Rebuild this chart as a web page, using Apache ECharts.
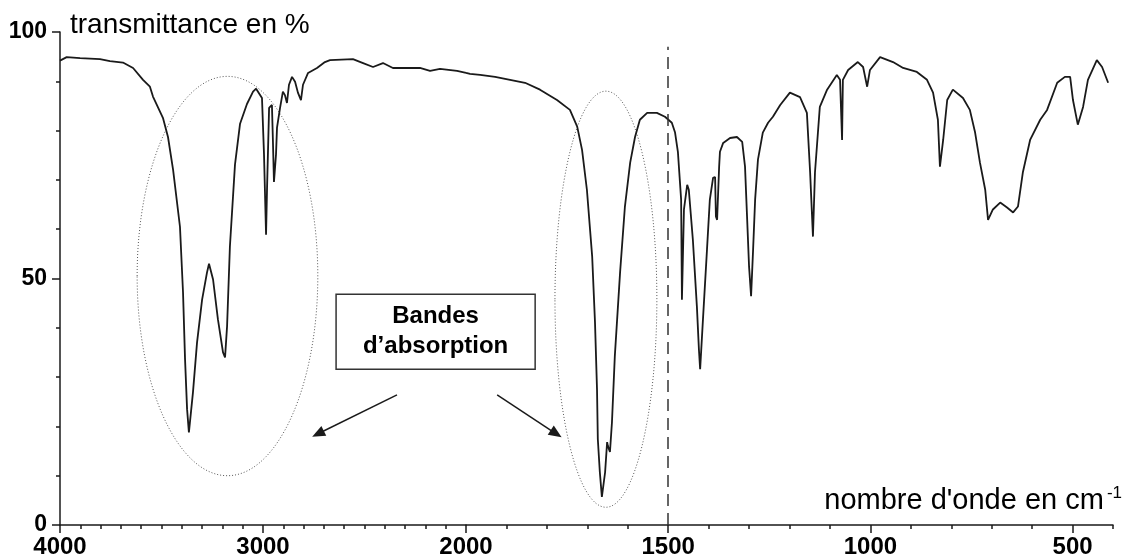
<!DOCTYPE html>
<html>
<head>
<meta charset="utf-8">
<script src="https://cdn.jsdelivr.net/npm/echarts@6/dist/echarts.min.js"></script>
<style>
  html, body { margin: 0; padding: 0; background: #fff; }
  #main { width: 1125px; height: 557px; }
</style>
</head>
<body>
<div id="main"></div>
<script>
// nombre d'onde 4000 -> 2000 cm-1 (échelle compressée)
const wnHigh = [4000, 3967, 3901, 3803, 3754, 3690, 3640, 3591, 3557, 3542, 3493, 3468, 3443, 3409, 3394, 3384, 3374, 3365, 3345, 3325, 3300, 3276, 3266, 3246, 3222, 3197, 3187, 3177, 3163, 3138, 3113, 3079, 3049, 3034, 3025, 3005, 2995, 2985, 2980, 2970, 2956, 2951, 2946, 2936, 2931, 2916, 2902, 2892, 2882, 2872, 2857, 2842, 2828, 2813, 2803, 2778, 2734, 2695, 2670, 2557, 2507, 2458, 2409, 2360, 2291, 2227, 2177, 2128, 2044, 2000];
const tHigh = [94.2, 94.9, 94.7, 94.5, 94.1, 93.8, 92.7, 90.3, 88.9, 86.9, 82.6, 78.7, 72.1, 60.5, 47.2, 33.6, 23.5, 18.8, 26.9, 37.0, 45.7, 51.2, 53.0, 49.8, 41.7, 35.0, 34.0, 40.3, 56.5, 73.1, 81.4, 85.4, 87.9, 88.5, 88.3, 86.6, 75.1, 58.9, 68.4, 84.6, 85.2, 77.7, 69.6, 75.1, 80.6, 84.6, 87.9, 87.2, 85.6, 89.3, 90.9, 89.9, 87.7, 86.2, 89.3, 91.7, 92.7, 93.9, 94.3, 94.5, 93.7, 92.9, 93.7, 92.7, 92.7, 92.7, 92.1, 92.5, 92.1, 91.7];

// nombre d'onde 2000 -> 400 cm-1
const wnLow = [2000, 1990, 1965, 1928, 1891, 1854, 1817, 1775, 1743, 1725, 1713, 1701, 1688, 1681, 1676, 1674, 1669, 1664, 1656, 1651, 1649, 1644, 1639, 1632, 1619, 1607, 1594, 1582, 1570, 1552, 1528, 1508, 1491, 1483, 1476, 1468, 1466, 1461, 1453, 1449, 1439, 1429, 1424, 1421, 1414, 1404, 1397, 1389, 1384, 1382, 1379, 1374, 1372, 1364, 1347, 1330, 1317, 1310, 1305, 1300, 1295, 1290, 1285, 1278, 1266, 1253, 1241, 1223, 1199, 1174, 1157, 1149, 1142, 1137, 1125, 1107, 1083, 1075, 1070, 1068, 1055, 1031, 1018, 1008, 1001, 976, 944, 919, 885, 860, 845, 833, 828, 820, 810, 796, 771, 754, 741, 729, 716, 709, 697, 679, 662, 647, 635, 623, 605, 580, 563, 538, 519, 506, 499, 487, 474, 462, 440, 427, 412];
const tLow = [91.7, 91.5, 91.3, 90.9, 90.3, 89.7, 88.3, 86.2, 84.2, 80.8, 76.1, 68.0, 54.5, 41.1, 27.5, 17.4, 10.7, 5.7, 10.7, 16.8, 16.0, 14.8, 20.9, 34.2, 51.2, 64.6, 73.5, 78.7, 82.2, 83.6, 83.6, 82.8, 81.6, 79.6, 75.7, 66.0, 45.7, 64.0, 69.0, 68.0, 57.9, 44.3, 35.6, 31.6, 41.7, 55.9, 66.0, 70.4, 70.6, 62.6, 61.9, 72.7, 75.7, 77.5, 78.5, 78.7, 77.7, 72.7, 62.6, 52.4, 46.4, 55.9, 66.0, 74.1, 79.6, 81.6, 82.8, 85.2, 87.7, 86.8, 83.6, 71.5, 58.5, 71.5, 84.8, 88.3, 91.3, 90.3, 78.1, 90.3, 92.3, 93.9, 92.9, 88.9, 92.3, 94.9, 93.9, 92.7, 91.9, 90.3, 87.7, 82.2, 72.7, 78.1, 86.2, 88.3, 86.6, 84.2, 79.6, 73.5, 68.0, 61.9, 64.0, 65.4, 64.4, 63.4, 64.6, 71.5, 78.1, 82.2, 84.2, 89.7, 90.9, 90.9, 86.2, 81.2, 84.8, 90.3, 94.3, 92.9, 89.7];

const majorTicksLow = [2000, 1500, 1000, 500];

// annotations (en unités des axes)
const ellipseWn = [[3620, 2730], [1780, 1528]];
const ellipseT = [[10, 91], [3.6, 88]];
const boxWn = [2640, 1829];
const boxT = [46.8, 31.6];

const ink = '#1a1a1a';
const font = '"Liberation Sans", Arial, sans-serif';

var myChart = echarts.init(document.getElementById('main'));

var option = {
  animation: false,
  grid: [
    { left: 60, top: 32, width: 406, bottom: 32, outerBoundsMode: 'none' },
    { left: 466, top: 32, width: 647, bottom: 32, outerBoundsMode: 'none' }
  ],
  xAxis: [
    {
      gridIndex: 0, type: 'value', min: 2000, max: 4000, interval: 1000, inverse: true,
      axisLine: { lineStyle: { color: ink, width: 1.5 } },
      axisTick: { length: 8, lineStyle: { color: ink, width: 1.5 } },
      minorTick: { show: true, splitNumber: 10, length: 4, lineStyle: { color: ink, width: 1.5 } },
      splitLine: { show: false },
      axisLabel: {
        margin: 10, color: '#000', fontFamily: font, fontWeight: 'bold', fontSize: 24,
        formatter: v => (v === 2000 ? '' : v)
      }
    },
    {
      gridIndex: 1, type: 'value', min: 400, max: 2000, interval: 100, inverse: true,
      axisLine: { lineStyle: { color: ink, width: 1.5 } },
      axisTick: { length: 4, lineStyle: { color: ink, width: 1.5 } },
      splitLine: { show: false },
      axisLabel: {
        margin: 10, color: '#000', fontFamily: font, fontWeight: 'bold', fontSize: 24,
        formatter: v => (v % 500 === 0 ? v : '')
      },
      name: "{a|nombre d'onde en cm}{s|-1}",
      nameLocation: 'start',
      nameGap: 9,
      nameTextStyle: {
        align: 'right', verticalAlign: 'bottom', padding: [0, 0, 9, 0],
        rich: {
          a: { fontFamily: font, fontSize: 29, color: '#000' },
          s: { fontFamily: font, fontSize: 17, color: '#000', verticalAlign: 'top', padding: [0, 0, 14, 3] }
        }
      }
    },
    {
      // graduations principales plus longues
      gridIndex: 1, type: 'value', min: 400, max: 2000, inverse: true, position: 'bottom',
      axisLine: { show: false },
      axisTick: { show: true, customValues: majorTicksLow, length: 8, lineStyle: { color: ink, width: 1.5 } },
      axisLabel: { show: false },
      splitLine: { show: false }
    }
  ],
  yAxis: [
    {
      gridIndex: 0, type: 'value', min: 0, max: 100, interval: 50,
      axisLine: { show: true, lineStyle: { color: ink, width: 1.5 } },
      axisTick: { show: true, length: 8, lineStyle: { color: ink, width: 1.5 } },
      minorTick: { show: true, splitNumber: 5, length: 4, lineStyle: { color: ink, width: 1.5 } },
      splitLine: { show: false },
      axisLabel: { margin: 13, color: '#000', fontFamily: font, fontWeight: 'bold', fontSize: 23 },
      name: 'transmittance en %',
      nameLocation: 'end',
      nameGap: 7,
      nameTextStyle: { align: 'left', verticalAlign: 'middle', padding: [0, 0, 0, 10], fontFamily: font, fontSize: 28, color: '#000' }
    },
    { gridIndex: 1, type: 'value', min: 0, max: 100, show: false }
  ],
  series: [
    {
      type: 'line', xAxisIndex: 0, yAxisIndex: 0,
      data: wnHigh.map((w, i) => [w, tHigh[i]]),
      showSymbol: false, silent: true,
      lineStyle: { color: ink, width: 1.8 },
      markLine: {
        silent: true, symbol: ['none', 'triangle'], symbolSize: [11, 13],
        label: { show: false },
        lineStyle: { color: ink, width: 1.5, type: 'solid' },
        data: [[{ coord: [2340, 26.4] }, { coord: [2729, 18.5] }]]
      }
    },
    {
      type: 'line', xAxisIndex: 1, yAxisIndex: 1,
      data: wnLow.map((w, i) => [w, tLow[i]]),
      showSymbol: false, silent: true,
      lineStyle: { color: ink, width: 1.8 },
      markLine: {
        silent: true, symbol: ['none', 'none'], symbolSize: [11, 13],
        label: { show: false },
        data: [
          [{ coord: [1500, 0], lineStyle: { color: '#333', width: 1.5, type: [12, 7] } }, { coord: [1500, 97] }],
          [{ coord: [1923, 26.4], lineStyle: { color: ink, width: 1.5, type: 'solid' } }, { coord: [1777, 18.5], symbol: 'triangle' }]
        ]
      }
    }
  ]
};

myChart.setOption(option);

// ellipses pointillées et encadré, placés via les axes
const px = (ax, w, t) => myChart.convertToPixel({ xAxisIndex: ax, yAxisIndex: ax }, [w, t]);
const graphics = [];
ellipseWn.forEach((w, i) => {
  const a = px(i, w[0], ellipseT[i][0]);
  const b = px(i, w[1], ellipseT[i][1]);
  graphics.push({
    type: 'ellipse', silent: true,
    shape: { cx: (a[0] + b[0]) / 2, cy: (a[1] + b[1]) / 2, rx: Math.abs(b[0] - a[0]) / 2, ry: Math.abs(b[1] - a[1]) / 2 },
    style: { fill: 'none', stroke: '#555', lineWidth: 1, lineDash: [1, 2] }
  });
});
const b0 = px(0, boxWn[0], boxT[0]);
const b1 = px(1, boxWn[1], boxT[1]);
graphics.push({
  type: 'rect', silent: true,
  shape: { x: b0[0], y: b0[1], width: b1[0] - b0[0], height: b1[1] - b0[1] },
  style: { fill: '#fff', stroke: '#333', lineWidth: 1.5 }
});
graphics.push({
  type: 'text', silent: true,
  x: (b0[0] + b1[0]) / 2, y: (b0[1] + b1[1]) / 2,
  style: {
    text: 'Bandes\nd’absorption', align: 'center', verticalAlign: 'middle',
    fontFamily: font, fontWeight: 'bold', fontSize: 24, lineHeight: 30, fill: '#000'
  }
});
myChart.setOption({ graphic: graphics });
</script>
</body>
</html>
